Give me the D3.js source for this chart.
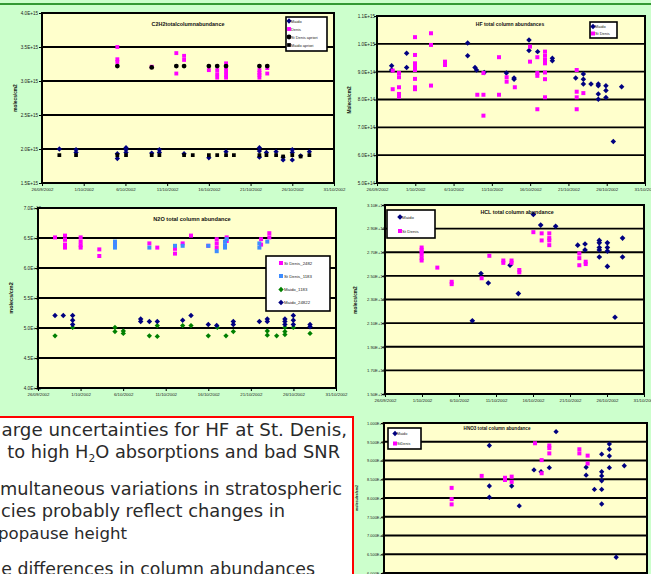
<!DOCTYPE html>
<html>
<head>
<script src="https://d3js.org/d3.v7.min.js"></script>
<style>
  body { margin: 0; background: #ccffcc; }
  svg { display: block; font-family: "Liberation Sans", Arial, sans-serif; }
</style>
</head>
<body>
<script>
// x axis: days since 26/09/2002
var dateTicks = [0, 5, 10, 15, 20, 25, 30, 35];
var dateLabels = ["26/09/2002", "1/10/2002", "6/10/2002", "11/10/2002", "16/10/2002", "21/10/2002", "26/10/2002", "31/10/2002"];

// C2H2 (E+15)
var c2h2Ticks = [1.5, 2, 2.5, 3, 3.5, 4];
var c2h2Labels = ["1.5E+15", "2.0E+15", "2.5E+15", "3.0E+15", "3.5E+15", "4.0E+15"];
var c2h2Maido = [[2.08,2.0],[4.08,1.99],[4.08,1.95],[9.03,1.93],[9.03,1.86],[10.07,2.02],[10.07,1.99],[10.07,1.95],
  [13.15,1.94],[14.07,1.99],[14.07,1.95],[17.03,1.93],[20.0,1.87],[22.06,1.96],[26.06,2.02],[26.06,1.97],[26.06,1.88],
  [26.9,1.95],[28.06,1.96],[28.9,1.88],[28.9,1.84],[30.0,1.99],[30.0,1.95],[30.0,1.84],[31.0,1.9],[32.05,1.96]];
var c2h2Denis = [[9.03,3.5],[9.03,3.32],[9.03,3.28],[13.15,3.21],[16.1,3.41],[16.1,3.11],[17.03,3.37],[17.03,3.31],
  [20.0,3.16],[21.0,3.16],[21.0,3.1],[21.0,3.05],[22.06,3.26],[22.06,3.19],[22.06,3.14],[22.06,3.09],[22.06,3.05],
  [26.06,3.16],[26.06,3.12],[26.06,3.09],[26.06,3.05],[27.0,3.19],[27.0,3.11]];
var c2h2DenisApriori = [[9.03,3.22],[13.15,3.2],[16.1,3.22],[17.03,3.22],[20.0,3.22],[21.0,3.22],[22.06,3.22],[26.06,3.22],[27.0,3.22]];
var c2h2MaidoApriori = [[2.08,1.91],[4.08,1.91],[9.03,1.91],[10.07,1.91],[13.15,1.91],[14.07,1.91],[17.03,1.91],[18.07,1.91],
  [20.0,1.91],[21.0,1.91],[22.06,1.91],[23.0,1.91],[26.06,1.91],[26.9,1.91],[28.06,1.91],[28.9,1.89],[30.0,1.91],[31.0,1.89],[32.05,1.91]];

// HF (E+14)
var hfTicks = [5, 6, 7, 8, 9, 10, 11];
var hfLabels = ["5.0E+14", "6.0E+14", "7.0E+14", "8.0E+14", "9.0E+14", "1.0E+15", "1.1E+15"];
var hfMaido = [[1.91,9.21],[1.91,9.06],[3.87,9.66],[3.87,9.15],[11.84,10.03],[11.84,9.57],[12.8,9.15],[13.0,9.06],[14.0,8.97],
  [16.9,8.95],[17.9,8.77],[17.9,8.73],[19.85,10.14],[19.85,9.76],[20.98,9.72],[22.9,9.48],[22.9,9.39],[25.95,8.77],
  [26.95,8.92],[26.95,8.73],[26.95,8.56],[27.95,8.56],[28.9,8.56],[28.9,8.49],[28.9,8.2],[28.9,8.01],[29.9,8.49],
  [29.9,8.32],[29.9,8.07],[30.86,6.49],[31.95,8.46]];
var hfDenis = [[2.05,9.04],[2.05,8.37],[2.87,8.95],[2.87,8.8],[2.87,8.44],[2.87,8.2],[2.87,8.1],[4.96,10.24],[4.96,9.6],
  [4.96,9.3],[4.96,9.18],[4.96,9.06],[4.96,8.74],[4.96,8.44],[4.96,8.37],[7.05,10.38],[7.05,9.96],[7.05,8.5],[8.88,9.36],
  [8.88,9.24],[13.1,8.17],[13.9,8.95],[13.9,8.17],[13.9,7.42],[15.93,9.52],[15.93,8.17],[16.93,8.8],[16.93,8.64],[18.0,8.44],
  [19.98,9.9],[19.98,9.36],[20.94,9.52],[20.94,8.95],[20.94,8.85],[20.94,7.65],[21.94,9.72],[21.94,9.57],[21.94,9.42],
  [21.94,9.3],[21.94,8.97],[21.94,8.73],[21.94,8.08],[26.08,9.06],[26.08,8.28],[26.08,8.08],[26.08,7.65],[26.95,8.23]];

// N2O (E+18)
var n2oTicks = [4, 4.5, 5, 5.5, 6, 6.5, 7];
var n2oLabels = ["4.0E+18", "4.5E+18", "5.0E+18", "5.5E+18", "6.0E+18", "6.5E+18", "7.0E+18"];
var n2oDenis2482 = [[2.0,6.51],[3.17,6.54],[3.17,6.47],[3.17,6.39],[3.17,6.34],[5.01,6.51],[5.01,6.44],[5.01,6.38],[5.01,6.34],
  [7.2,6.31],[7.2,6.2],[9.04,6.41],[13.08,6.41],[14.01,6.34],[16.09,6.32],[16.09,6.24],[16.99,6.41],[17.97,6.54],[20.0,6.37],
  [20.99,6.48],[20.99,6.41],[20.99,6.34],[22.16,6.51],[22.16,6.45],[26.2,6.48],[26.2,6.39],[27.17,6.58],[27.17,6.51]];
var n2oDenis1183 = [[9.04,6.44],[9.04,6.38],[9.04,6.34],[13.08,6.34],[16.09,6.37],[16.99,6.37],[20.0,6.37],[20.99,6.28],
  [21.96,6.44],[21.96,6.38],[21.96,6.34],[22.16,6.48],[26.0,6.41],[26.0,6.34],[26.93,6.44]];
var n2oMaido1183 = [[2.0,4.87],[4.07,5.01],[9.04,5.01],[9.04,4.94],[10.02,4.95],[10.02,4.91],[13.08,4.87],[14.01,5.04],[14.01,4.86],
  [16.99,5.04],[17.97,5.04],[20.0,4.87],[21.06,5.01],[22.08,4.87],[22.94,4.94],[26.93,4.95],[26.93,4.88],[28.03,4.87],
  [29.0,5.01],[29.0,4.94],[29.0,4.89],[29.99,5.01],[31.95,4.91]];
var n2oMaido24822 = [[2.0,5.21],[2.97,5.21],[4.07,5.21],[4.07,5.13],[4.07,5.06],[12.06,5.15],[12.06,5.11],[13.08,5.11],[14.01,5.11],
  [16.99,5.13],[17.97,5.21],[20.0,5.06],[20.99,5.04],[22.94,5.11],[22.94,5.06],[26.0,5.11],[26.93,5.15],[26.93,5.11],
  [29.0,5.15],[29.0,5.11],[29.0,5.06],[29.99,5.21],[29.99,5.13],[29.99,5.06],[31.95,5.06],[31.95,5.02]];

// HCL (E+15)
var hclTicks = [1.5, 1.7, 1.9, 2.1, 2.3, 2.5, 2.7, 2.9, 3.1];
var hclLabels = ["1.50E+15", "1.70E+15", "1.90E+15", "2.10E+15", "2.30E+15", "2.50E+15", "2.70E+15", "2.90E+15", "3.10E+15"];
var hclMaido = [[11.8,2.12],[12.97,2.52],[13.96,2.44],[16.9,2.59],[18.02,2.35],[20.05,3.02],[21.04,2.93],[23.06,2.92],
  [26.04,2.76],[27.03,2.77],[27.03,2.72],[28.96,2.8],[28.96,2.78],[28.96,2.74],[28.96,2.72],[28.96,2.66],[30.05,2.78],
  [30.05,2.74],[30.05,2.71],[30.05,2.58],[31.08,2.15],[32.1,2.82],[32.1,2.66]];
var hclDenis = [[4.95,2.74],[4.95,2.72],[4.95,2.7],[4.95,2.68],[4.95,2.65],[4.95,2.63],[7.07,2.57],[9.01,2.45],[9.01,2.43],
  [13.06,2.48],[14.1,2.67],[15.99,2.63],[15.99,2.61],[17.1,2.63],[17.1,2.61],[18.15,2.55],[18.15,2.53],[20.05,2.87],
  [21.17,2.86],[21.17,2.8],[22.2,2.86],[22.2,2.82],[22.2,2.8],[22.2,2.76],[26.26,2.69],[26.26,2.65],[26.26,2.59],
  [27.12,2.62],[27.12,2.6]];

// HNO3 (E+15)
var hno3Ticks = [5.5, 6, 6.5, 7, 7.5, 8, 8.5, 9, 9.5, 10];
var hno3Labels = ["5.500E+15", "6.000E+15", "6.500E+15", "7.000E+15", "7.500E+15", "8.000E+15", "8.500E+15", "9.000E+15", "9.500E+15", "1.000E+16"];
var hno3Maido = [[14.02,9.4],[14.02,8.32],[14.02,8.02],[16.99,8.32],[18.0,7.79],[19.96,8.75],[20.9,8.7],[22.0,8.81],[22.9,9.77],
  [26.9,8.82],[26.9,8.61],[28.0,8.23],[28.97,9.17],[28.97,8.7],[28.97,8.59],[28.97,8.46],[28.97,8.23],[28.97,7.84],
  [29.99,9.44],[29.99,9.3],[29.99,9.12],[29.99,8.81],[30.9,6.42],[31.98,8.86]];
var hno3Denis = [[9.0,8.27],[9.0,7.97],[9.0,7.83],[13.0,8.59],[16.1,8.54],[16.1,8.48],[16.99,8.57],[16.99,8.43],[20.1,9.46],
  [20.98,9.01],[20.98,8.66],[22.0,9.4],[22.0,9.33],[22.0,9.19],[26.0,9.3],[26.0,9.19],[27.1,9.13],[27.1,8.92]];

var navy = "#000080", magenta = "#ff00ff", ltblue = "#3d8cff", green = "#008000";

var svg = d3.select("body").append("svg").attr("width", 651).attr("height", 574);
svg.append("rect").attr("width", 651).attr("height", 574).attr("fill", "#ccffcc");
svg.append("rect").attr("x", 0).attr("y", 3).attr("width", 651).attr("height", 2).attr("fill", "#339933");

// diamond = square turned 45 degrees (excel style)
function marker(shape, size) {
    var t = shape === "triangle" ? d3.symbolTriangle : shape === "circle" ? d3.symbolCircle : d3.symbolSquare;
    return d3.symbol().type(t).size(size);
}
function rot(shape) { return shape === "diamond" ? " rotate(45)" : ""; }

function drawChart(c) {
    var g = svg.append("g");
    var x = d3.scaleLinear().domain([0, 35]).range([c.left, c.right]);
    var y = d3.scaleLinear().domain(c.yDomain).range([c.bottom, c.top]);

    // y axis labels first, so the plot box can overlap them like in excel
    g.append("g")
        .attr("transform", "translate(" + c.left + ",0)")
        .call(d3.axisLeft(y).tickValues(c.yTicks).tickSize(3)
            .tickPadding(c.left - 3 - c.labelEnd)
            .tickFormat(function(d, i) { return c.yLabels[i]; }))
        .call(function(a) {
            a.select(".domain").remove();
            a.selectAll("line").attr("stroke", "#000").attr("stroke-width", 1);
            a.selectAll("text").attr("font-size", c.tickFont || 4.6).attr("fill", "#222")
                .attr("font-family", "Liberation Sans, Arial");
        });

    g.append("g")
        .attr("transform", "translate(0," + c.bottom + ")")
        .call(d3.axisBottom(x).tickValues(dateTicks).tickSize(3).tickPadding(2)
            .tickFormat(function(d, i) { return dateLabels[i]; }))
        .call(function(a) {
            a.select(".domain").remove();
            a.selectAll("line").attr("stroke", "#000").attr("stroke-width", 1);
            a.selectAll("text").attr("font-size", 4.4).attr("fill", "#222")
                .attr("font-family", "Liberation Sans, Arial");
        });

    g.append("rect")
        .attr("x", c.left).attr("y", c.top)
        .attr("width", c.right - c.left).attr("height", c.bottom - c.top)
        .attr("fill", "#ffffcc");

    g.selectAll(".grid").data(c.yTicks).enter().append("line")
        .attr("x1", c.left).attr("x2", c.right)
        .attr("y1", function(d) { return y(d); }).attr("y2", function(d) { return y(d); })
        .attr("stroke", "#000").attr("stroke-width", 1.8);

    g.append("rect")
        .attr("x", c.left).attr("y", c.top)
        .attr("width", c.right - c.left).attr("height", c.bottom - c.top)
        .attr("fill", "none").attr("stroke", "#000").attr("stroke-width", 2);

    c.series.forEach(function(s) {
        g.selectAll(null).data(s.data).enter().append("path")
            .attr("d", marker(s.shape, s.size || 16))
            .attr("transform", function(d) { return "translate(" + x(d[0]) + "," + y(d[1]) + ")" + rot(s.shape); })
            .attr("fill", s.color);
    });

    g.append("text")
        .attr("x", c.titleX).attr("y", c.titleY)
        .attr("text-anchor", "middle").attr("font-size", c.titleFont || 5.4)
        .attr("font-weight", "bold").attr("fill", "#111")
        .text(c.title);

    g.append("text")
        .attr("transform", "translate(" + c.yLabelX + "," + c.yLabelY + ") rotate(-90)")
        .attr("text-anchor", "middle").attr("font-size", c.yLabelFont || 4.8)
        .attr("font-weight", "bold").attr("fill", "#111")
        .text(c.yLabel);

    var L = c.legend;
    g.append("rect")
        .attr("x", L.x).attr("y", L.y).attr("width", L.w).attr("height", L.h)
        .attr("fill", "#fff").attr("stroke", "#000").attr("stroke-width", 1.6);
    c.series.forEach(function(s, i) {
        g.append("path")
            .attr("d", marker(s.shape, s.size || 16))
            .attr("transform", "translate(" + (L.x + L.mx) + "," + L.rows[i] + ")" + rot(s.shape))
            .attr("fill", s.color);
        g.append("text")
            .attr("x", L.x + L.tx).attr("y", L.rows[i] + 1.5)
            .attr("font-size", L.font || 4.2).attr("fill", "#222")
            .text(s.name);
    });
}

drawChart({
    left: 42, right: 334, top: 13, bottom: 183, labelEnd: 38,
    yDomain: [1.5, 4.0], yTicks: c2h2Ticks, yLabels: c2h2Labels,
    title: "C2H2totalcolumnabundance", titleX: 188, titleY: 26,
    yLabel: "molecs/cm2", yLabelX: 17, yLabelY: 98,
    legend: { x: 286, y: 17, w: 41, h: 34, rows: [21, 29, 37, 45], mx: 3, tx: 5, font: 3.9 },
    series: [
        { name: "Maido", data: c2h2Maido, color: navy, shape: "diamond", size: 14 },
        { name: "Denis", data: c2h2Denis, color: magenta, shape: "square", size: 15 },
        { name: "St Denis apriori", data: c2h2DenisApriori, color: "#000", shape: "circle", size: 18 },
        { name: "Maido apriori", data: c2h2MaidoApriori, color: "#000", shape: "square", size: 14 }
    ]
});

drawChart({
    left: 377, right: 645, top: 16, bottom: 183, labelEnd: 375,
    yDomain: [5, 11], yTicks: hfTicks, yLabels: hfLabels,
    title: "HF total column abundances", titleX: 510, titleY: 26, titleFont: 5,
    yLabel: "Molecs/cm2", yLabelX: 351, yLabelY: 100,
    legend: { x: 590, y: 22, w: 27, h: 16, rows: [26.5, 33.5], mx: 3, tx: 5, font: 3.9 },
    series: [
        { name: "Maido", data: hfMaido, color: navy, shape: "diamond", size: 15 },
        { name: "St Denis", data: hfDenis, color: magenta, shape: "square", size: 16 }
    ]
});

drawChart({
    left: 38, right: 336, top: 208, bottom: 388, labelEnd: 41,
    yDomain: [4, 7], yTicks: n2oTicks, yLabels: n2oLabels,
    title: "N2O total column  abundance", titleX: 192, titleY: 221, titleFont: 5.6,
    yLabel: "molecs/cm2", yLabelX: 13, yLabelY: 298, yLabelFont: 5.5,
    legend: { x: 266, y: 256, w: 64, h: 55, rows: [263, 276, 289.5, 302.5], mx: 15, tx: 18, font: 4.3 },
    series: [
        { name: "St Denis_2482", data: n2oDenis2482, color: magenta, shape: "square", size: 16 },
        { name: "St Denis_1183", data: n2oDenis1183, color: ltblue, shape: "square", size: 16 },
        { name: "Maido_1183", data: n2oMaido1183, color: green, shape: "diamond", size: 14 },
        { name: "Maido_24822", data: n2oMaido24822, color: navy, shape: "diamond", size: 15 }
    ]
});

drawChart({
    left: 385, right: 644, top: 205, bottom: 394, labelEnd: 385,
    yDomain: [1.5, 3.1], yTicks: hclTicks, yLabels: hclLabels, tickFont: 4.2,
    title: "HCL total column abundance", titleX: 517, titleY: 214, titleFont: 5.3,
    yLabel: "molecs/cm2", yLabelX: 357, yLabelY: 300,
    legend: { x: 387, y: 210, w: 48, h: 28, rows: [217, 231], mx: 13, tx: 15, font: 4.4 },
    series: [
        { name: "Maido", data: hclMaido, color: navy, shape: "diamond", size: 16 },
        { name: "St Denis", data: hclDenis, color: magenta, shape: "square", size: 16 }
    ]
});

drawChart({
    left: 384, right: 647, top: 423, bottom: 591.75, labelEnd: 386,
    yDomain: [5.5, 10], yTicks: hno3Ticks, yLabels: hno3Labels, tickFont: 3.9,
    title: "HNO3 total column abundance", titleX: 497, titleY: 430, titleFont: 4.6,
    yLabel: "molecules/cm2", yLabelX: 358, yLabelY: 498, yLabelFont: 3.6,
    legend: { x: 388, y: 428, w: 33, h: 21, rows: [433.5, 443.5], mx: 7, tx: 9, font: 3.8 },
    series: [
        { name: "Maido", data: hno3Maido, color: navy, shape: "diamond", size: 14 },
        { name: "StDenis", data: hno3Denis, color: magenta, shape: "square", size: 16 }
    ]
});

// text box with conclusions (left part of the box runs off the slide)
svg.append("rect")
    .attr("x", -5).attr("y", 417).attr("width", 358).attr("height", 200)
    .attr("fill", "#fff").attr("stroke", "#ff0000").attr("stroke-width", 2);

// hidden = part beyond the slide's left edge; x0..x1 = span of the visible part
var notes = [
    { hidden: "• L", parts: [["arge uncertainties for HF at St. Denis,"]], x0: 1, x1: 347, y: 436 },
    { hidden: "due ", parts: [["to high H"], ["2", "sub"], ["O absorptions and bad SNR"]], x0: 7, x1: 340, y: 458 },
    { hidden: "• Si", parts: [["multaneous variations in stratospheric"]], x0: 0, x1: 342, y: 495 },
    { hidden: "spe", parts: [["cies probably reflect changes in"]], x0: 1, x1: 285, y: 517 },
    { hidden: "tro", parts: [["popause height"]], x0: -2, x1: 127, y: 539 },
    { hidden: "• Th", parts: [["e differences in column abundances"]], x0: 1, x1: 315, y: 575 }
];
var base = 18;
notes.forEach(function(n) {
    var t = svg.append("text")
        .attr("y", n.y)
        .attr("text-anchor", "end")
        .attr("font-family", "DejaVu Sans, sans-serif")
        .attr("fill", "#2a2a2a");
    var hid = t.append("tspan").text(n.hidden).attr("fill-opacity", 0);
    n.parts.forEach(function(p, i) {
        var ts = t.append("tspan").text(p[0]).attr("class", p[1] === "sub" ? "sub" : null);
        if (p[1] === "sub") ts.attr("dy", 4);
        else if (i > 0) ts.attr("dy", -4);
    });
    // fit the visible part into its span
    t.attr("font-size", base);
    t.selectAll(".sub").attr("font-size", base * 0.6);
    var full = t.node().getComputedTextLength();
    var hw = hid.node().getComputedTextLength();
    var fs = base * (n.x1 - n.x0) / (full - hw);
    t.attr("font-size", fs).attr("x", n.x1);
    t.selectAll(".sub").attr("font-size", fs * 0.6);
});
</script>
</body>
</html>
